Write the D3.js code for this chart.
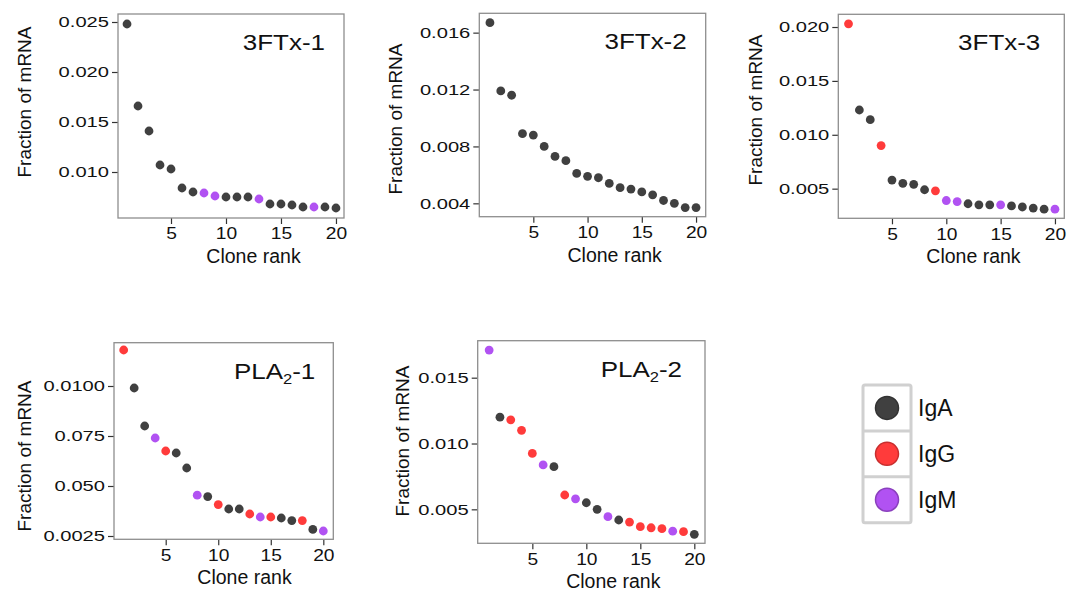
<!DOCTYPE html>
<html>
<head>
<meta charset="utf-8">
<script src="https://cdn.jsdelivr.net/npm/d3@7/dist/d3.min.js"></script>
<style>
  body { margin: 0; background: #fff; }
  svg { font-family: "Liberation Sans", Arial, sans-serif; }
</style>
</head>
<body>
<div id="chart"></div>
<script>
// values
let ranks = [1,2,3,4,5,6,7,8,9,10,11,12,13,14,15,16,17,18,19,20];

let titles = ["3FTx-1", "3FTx-2", "3FTx-3", "PLA2-1", "PLA2-2"];

let frac3FTx1 = [0.0248,0.0166,0.0141,0.0107,0.0103,0.0084,0.0080,0.0079,0.0076,0.0075,
                 0.0075,0.0075,0.0073,0.0068,0.0068,0.0067,0.0065,0.0065,0.0065,0.0064];
let iso3FTx1  = ["IgA","IgA","IgA","IgA","IgA","IgA","IgA","IgM","IgM","IgA",
                 "IgA","IgA","IgM","IgA","IgA","IgA","IgA","IgM","IgA","IgA"];

let frac3FTx2 = [0.0167,0.0119,0.0116,0.0089,0.0088,0.0080,0.0073,0.0070,0.0061,0.0059,
                 0.0058,0.0054,0.0051,0.0050,0.0048,0.0046,0.0042,0.0040,0.0037,0.0037];
let iso3FTx2  = ["IgA","IgA","IgA","IgA","IgA","IgA","IgA","IgA","IgA","IgA",
                 "IgA","IgA","IgA","IgA","IgA","IgA","IgA","IgA","IgA","IgA"];

let frac3FTx3 = [0.0203,0.0123,0.0114,0.0090,0.0058,0.0055,0.0054,0.0049,0.0048,0.0039,
                 0.0038,0.0036,0.0035,0.0035,0.0035,0.0034,0.0033,0.0032,0.0031,0.0031];
let iso3FTx3  = ["IgG","IgA","IgA","IgG","IgA","IgA","IgA","IgA","IgG","IgM",
                 "IgM","IgA","IgA","IgA","IgM","IgA","IgA","IgA","IgA","IgM"];

let fracPLA1 = [0.0118,0.0099,0.0080,0.0074,0.00675,0.00665,0.0059,0.00454,0.00447,0.00407,
                0.00385,0.00385,0.0036,0.00345,0.00345,0.0034,0.00327,0.00327,0.00283,0.00275];
let isoPLA1  = ["IgG","IgA","IgA","IgM","IgG","IgA","IgA","IgM","IgA","IgG",
                "IgA","IgA","IgG","IgM","IgG","IgA","IgA","IgG","IgA","IgM"];

let fracPLA2 = [0.0171,0.0120,0.0118,0.0110,0.00925,0.00837,0.00824,0.00609,0.0058,0.0055,
                0.0050,0.00444,0.00419,0.00403,0.00368,0.0036,0.00353,0.00334,0.0033,0.0031];
let isoPLA2  = ["IgM","IgA","IgG","IgG","IgG","IgM","IgA","IgG","IgM","IgA",
                "IgA","IgM","IgA","IgG","IgG","IgG","IgG","IgM","IgG","IgA"];

// y ticks and their printed labels (PLA2-1 labels are kept as printed)
let yTicks = [
  [0.010, 0.015, 0.020, 0.025],
  [0.004, 0.008, 0.012, 0.016],
  [0.005, 0.010, 0.015, 0.020],
  [0.0025, 0.005, 0.0075, 0.0100],
  [0.005, 0.010, 0.015]
];
let yTickLabels = [
  ["0.010", "0.015", "0.020", "0.025"],
  ["0.004", "0.008", "0.012", "0.016"],
  ["0.005", "0.010", "0.015", "0.020"],
  ["0.0025", "0.050", "0.075", "0.0100"],
  ["0.005", "0.010", "0.015"]
];
let xTicks = [5, 10, 15, 20];

let isotypes = ["IgA", "IgG", "IgM"];
let isoColors = ["#404040", "#ff3b3b", "#b152f2"];

let allFrac = [frac3FTx1, frac3FTx2, frac3FTx3, fracPLA1, fracPLA2];
let allIso = [iso3FTx1, iso3FTx2, iso3FTx3, isoPLA1, isoPLA2];

// panel layout: plot box in pixels, visible domains, y-title position
let layout = [
  {x0: 118,   y0: 14,    x1: 344,    y1: 218,   xd: [0.18, 20.73], yd: [0.0054, 0.0258],   lx: 31,  ly: 102, tdx: 19},
  {x0: 479.3, y0: 13.3,  x1: 705.7,  y1: 216.7, xd: [0.02, 20.89], yd: [0.00306, 0.01736], lx: 402, ly: 119, tdx: 19},
  {x0: 838.3, y0: 14.3,  x1: 1064.3, y1: 218.3, xd: [0.06, 20.86], yd: [0.00225, 0.02118], lx: 762, ly: 110, tdx: 24},
  {x0: 114,   y0: 342.7, x1: 333.3,  y1: 539.3, xd: [0.08, 20.95], yd: [0.002335, 0.012165], lx: 31, ly: 456, tdx: 18},
  {x0: 477.7, y0: 340.7, x1: 705,    y1: 543.3, xd: [-0.06, 20.99], yd: [0.00242, 0.01781], lx: 409, ly: 441, tdx: 23}
];

let width = 1078, height = 592;
let color = d3.scaleOrdinal().domain(isotypes).range(isoColors);

let svg = d3.select("#chart").append("svg")
    .attr("width", width)
    .attr("height", height);

// text in the reference is set wider than plain Arial
function stretchText(sel, sx) {
    sel.each(function () {
        let t = d3.select(this);
        let x = +t.attr("x") || 0;
        t.attr("x", x / sx).attr("transform", "scale(" + sx + ",1)");
    });
}

layout.forEach((p, i) => {
    let xScale = d3.scaleLinear().domain(p.xd).range([p.x0, p.x1]);
    let yScale = d3.scaleLinear().domain(p.yd).range([p.y1, p.y0]);

    let g = svg.append("g").attr("class", "panel");

    // y axis
    let yAxis = d3.axisLeft(yScale)
        .tickValues(yTicks[i])
        .tickFormat((d, k) => yTickLabels[i][k])
        .tickSize(6)
        .tickPadding(3);
    let ya = g.append("g")
        .attr("transform", "translate(" + p.x0 + ",0)")
        .call(yAxis);
    ya.select(".domain").remove();
    ya.selectAll("line").attr("stroke", "#333").attr("stroke-width", 1.2);
    ya.selectAll("text").attr("font-size", 15.5).attr("fill", "#111").attr("font-family", null);
    stretchText(ya.selectAll("text"), 1.3);

    // x axis
    let xAxis = d3.axisBottom(xScale)
        .tickValues(xTicks)
        .tickSize(6)
        .tickPadding(4);
    let xa = g.append("g")
        .attr("transform", "translate(0," + p.y1 + ")")
        .call(xAxis);
    xa.select(".domain").remove();
    xa.selectAll("line").attr("stroke", "#333").attr("stroke-width", 1.2);
    xa.selectAll("text").attr("font-size", 16).attr("fill", "#111").attr("font-family", null);
    stretchText(xa.selectAll("text"), 1.2);

    // plot box
    g.append("rect")
        .attr("x", p.x0).attr("y", p.y0)
        .attr("width", p.x1 - p.x0).attr("height", p.y1 - p.y0)
        .attr("fill", "none")
        .attr("stroke", "#8e8e8e")
        .attr("stroke-width", 1.3);

    // points
    let pts = ranks.map((r, k) => ({rank: r, frac: allFrac[i][k], iso: allIso[i][k]}));
    g.selectAll("circle.pt")
        .data(pts)
        .enter()
        .append("circle")
        .attr("class", "pt")
        .attr("cx", d => xScale(d.rank))
        .attr("cy", d => yScale(d.frac))
        .attr("r", 4.4)
        .attr("fill", d => color(d.iso));

    // axis titles
    let midX = (xScale(xTicks[0]) + xScale(xTicks[xTicks.length - 1])) / 2;
    g.append("text")
        .attr("x", midX)
        .attr("y", p.y1 + 45)
        .attr("text-anchor", "middle")
        .attr("font-size", 19.5)
        .attr("fill", "#111")
        .text("Clone rank");

    g.append("text")
        .attr("transform", "translate(" + p.lx + "," + p.ly + ") rotate(-90)")
        .attr("text-anchor", "middle")
        .attr("font-size", 19)
        .attr("fill", "#111")
        .text("Fraction of mRNA");

    // panel title, PLA2 gets a subscript
    let title = g.append("g")
        .attr("transform", "translate(" + (p.x1 - p.tdx) + "," + (p.y0 + 36) + ") scale(1.18,1)")
        .append("text")
        .attr("text-anchor", "end")
        .attr("font-size", 22)
        .attr("fill", "#111");
    let name = titles[i];
    if (name.startsWith("PLA2")) {
        title.append("tspan").text("PLA");
        title.append("tspan").attr("font-size", 14).attr("dy", 5).text("2");
        title.append("tspan").attr("dy", -5).text(name.slice(4));
    } else {
        title.text(name);
    }
});

// legend
let leg = svg.append("g").attr("class", "legend");
let legX = 863, legY = 385, cellH = 45.9, cellW = 48;

leg.append("rect")
    .attr("x", legX).attr("y", legY)
    .attr("width", cellW).attr("height", cellH * isotypes.length)
    .attr("rx", 2)
    .attr("fill", "#fff")
    .attr("stroke", "#d0d0d0")
    .attr("stroke-width", 3);

isotypes.forEach((iso, k) => {
    let cy = legY + cellH * (k + 0.5);
    if (k > 0) {
        leg.append("line")
            .attr("x1", legX).attr("x2", legX + cellW)
            .attr("y1", legY + cellH * k).attr("y2", legY + cellH * k)
            .attr("stroke", "#d0d0d0")
            .attr("stroke-width", 3);
    }
    leg.append("circle")
        .attr("cx", legX + cellW / 2)
        .attr("cy", cy)
        .attr("r", 11.5)
        .attr("fill", color(iso))
        .attr("stroke", d3.color(color(iso)).darker(0.7))
        .attr("stroke-width", 1.5);
    leg.append("text")
        .attr("x", legX + cellW + 7)
        .attr("y", cy + 8)
        .attr("font-size", 23)
        .attr("fill", "#111")
        .text(iso);
});
</script>
</body>
</html>
